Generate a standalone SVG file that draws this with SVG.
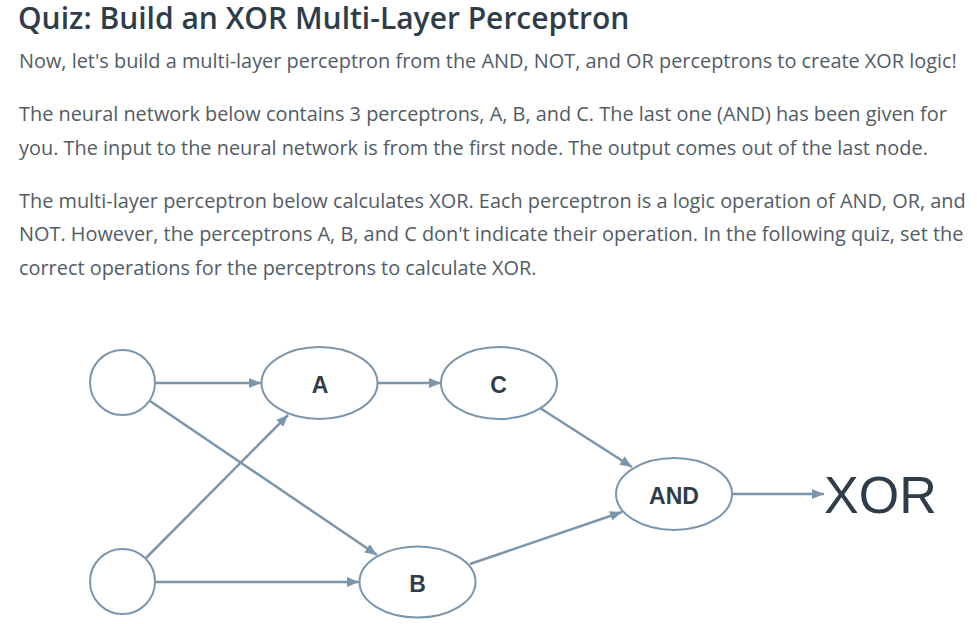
<svg xmlns="http://www.w3.org/2000/svg" width="977" height="624" viewBox="0 0 977 624">
<style>
.title{font-family:"Open Sans","Noto Sans",sans-serif;font-weight:600;font-size:30px;fill:#2e3d49}
.body{font-family:"Open Sans","Noto Sans",sans-serif;font-size:19.9px;fill:#525c65}
.node{fill:#fff;stroke:#7b96ac;stroke-width:2}
.lbl{font-family:"Liberation Sans",Arial,sans-serif;font-weight:bold;font-size:23px;fill:#2e3d49;text-anchor:middle}
.out{font-family:"Liberation Sans",Arial,sans-serif;font-size:52px;fill:#2e3d49}
.edge{stroke:#7b96ac;stroke-width:2.5;fill:none;marker-end:url(#arr)}
</style>
<defs>
<marker id="arr" markerUnits="userSpaceOnUse" markerWidth="12" markerHeight="10" refX="12" refY="5" orient="auto">
<path d="M0,0 L12,5 L0,10 z" fill="#7b96ac"/>
</marker>
</defs>
<rect width="977" height="624" fill="#fff"/>
<g id="text">
<text class="title" x="18" y="29">Quiz: Build an XOR Multi-Layer Perceptron</text>
<text class="body" x="19" y="68">Now, let's build a multi-layer perceptron from the AND, NOT, and OR perceptrons to create XOR logic!</text>
<text class="body" x="19" y="121">The neural network below contains 3 perceptrons, A, B, and C. The last one (AND) has been given for</text>
<text class="body" x="19" y="155">you. The input to the neural network is from the first node. The output comes out of the last node.</text>
<text class="body" x="19" y="208">The multi-layer perceptron below calculates XOR. Each perceptron is a logic operation of AND, OR, and</text>
<text class="body" x="19" y="241">NOT. However, the perceptrons A, B, and C don't indicate their operation. In the following quiz, set the</text>
<text class="body" x="19" y="275">correct operations for the perceptrons to calculate XOR.</text>
</g>
<g id="connectors">
<line class="edge" x1="155" y1="383" x2="261" y2="383"/>
<line class="edge" x1="378" y1="383" x2="441" y2="383"/>
<line class="edge" x1="150" y1="401" x2="377" y2="555"/>
<line class="edge" x1="146" y1="558" x2="288" y2="415"/>
<line class="edge" x1="155" y1="582" x2="359" y2="582"/>
<line class="edge" x1="540" y1="408" x2="632" y2="467"/>
<line class="edge" x1="470" y1="564" x2="622" y2="512"/>
<line class="edge" x1="733" y1="494" x2="824" y2="494"/>
</g>
<g id="in1"><circle class="node" cx="122.5" cy="382.5" r="32.5"/></g>
<g id="in2"><circle class="node" cx="122.5" cy="581.5" r="32.5"/></g>
<g id="A"><ellipse class="node" cx="319.5" cy="383" rx="58" ry="36"/><text class="lbl" x="320" y="392.5">A</text></g>
<g id="C"><ellipse class="node" cx="499" cy="383" rx="58" ry="36"/><text class="lbl" x="498.5" y="392.5">C</text></g>
<g id="B"><ellipse class="node" cx="417.5" cy="582" rx="58" ry="35.5"/><text class="lbl" x="417.5" y="591.5">B</text></g>
<g id="AND"><ellipse class="node" cx="674" cy="494" rx="58" ry="36"/><text class="lbl" x="674" y="503.5">AND</text></g>
<g id="XOR"><text class="out" x="824" y="513">XOR</text></g>
</svg>
